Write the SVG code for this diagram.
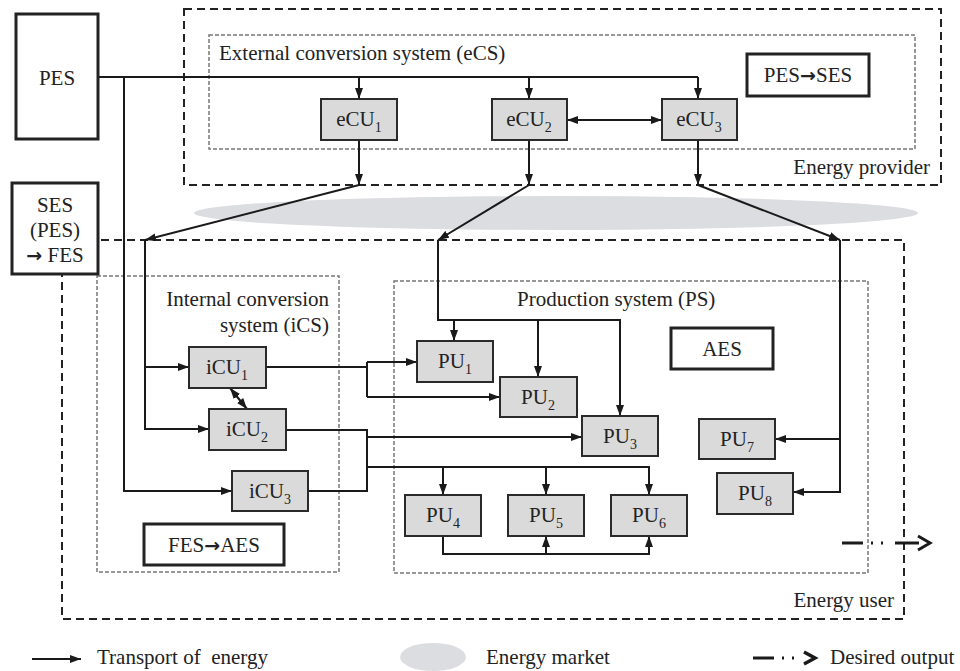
<svg xmlns="http://www.w3.org/2000/svg" width="960" height="671" viewBox="0 0 960 671">
<style>
text{font-family:"Liberation Serif","Times New Roman",serif;font-size:21px;fill:#222}
.mid{text-anchor:middle}
.end{text-anchor:end}
.sub{font-size:14px}
.arr{font-family:"DejaVu Sans",sans-serif;font-weight:bold;font-size:19px}
.unit{fill:#dadada;stroke:#2a2a2a;stroke-width:2}
.thick{fill:#fff;stroke:#222;stroke-width:3}
.outer{fill:none;stroke:#222;stroke-width:2;stroke-dasharray:8 5}
.inner{fill:none;stroke:#777;stroke-width:1.5;stroke-dasharray:4 2}
.c{fill:none;stroke:#1a1a1a;stroke-width:2}
.a{fill:none;stroke:#1a1a1a;stroke-width:2;marker-end:url(#ah)}
.b{fill:none;stroke:#1a1a1a;stroke-width:2;marker-end:url(#ah);marker-start:url(#ah)}
</style>
<defs>
<marker id="ah" viewBox="0 0 11 8" refX="11" refY="4" markerWidth="11" markerHeight="8" markerUnits="userSpaceOnUse" orient="auto-start-reverse"><path d="M0,0 L11,4 L0,8 z" fill="#1a1a1a"/></marker>
</defs>

<rect width="960" height="671" fill="#fff"/>

<g id="market">
<ellipse cx="556" cy="213" rx="362" ry="17" fill="#dcdde0"/>
</g>

<g id="energy-provider">
<rect class="outer" x="184" y="9" width="757" height="176"/>
<text class="end" x="930" y="174">Energy provider</text>
</g>
<g id="eCS">
<rect class="inner" x="209" y="35" width="706" height="114"/>
<text x="219" y="60">External conversion system (eCS)</text>
</g>

<g id="energy-user">
<rect class="outer" x="62" y="240" width="842" height="379"/>
<text class="end" x="894" y="607">Energy user</text>
</g>
<g id="iCS">
<rect class="inner" x="97" y="276" width="242" height="296"/>
<text class="end" x="329" y="306">Internal conversion</text>
<text class="end" x="329" y="332">system (iCS)</text>
</g>
<g id="PS">
<rect class="inner" x="394" y="281" width="474" height="292"/>
<text x="517" y="306">Production system (PS)</text>
</g>

<g id="connectors">
<path class="c" d="M98,77 H698"/>
<path class="a" d="M359,77 V99"/>
<path class="a" d="M529,77 V99"/>
<path class="a" d="M698,77 V99"/>
<path class="a" d="M124,77 V491 H232"/>
<path class="a" d="M359,140 V185"/>
<path class="a" d="M529,140 V185"/>
<path class="a" d="M698,140 V185"/>
<path class="b" d="M567,120 H662"/>
<path class="a" d="M359,185 L145,240"/>
<path class="a" d="M529,185 L438,240"/>
<path class="a" d="M698,185 L840,240"/>
<path class="a" d="M145,240 V429 H209"/>
<path class="a" d="M145,367 H189"/>
<path class="a" d="M438,240 V320 H620 V416"/>
<path class="a" d="M454,320 V341"/>
<path class="a" d="M538,320 V377"/>
<path class="a" d="M840,240 V492 H793"/>
<path class="a" d="M840,439 H775"/>
<path class="b" d="M230,388 L247,409"/>
<path class="c" d="M266,367 H367"/>
<path class="c" d="M367,362 V397"/>
<path class="a" d="M367,362 H417"/>
<path class="a" d="M367,397 H500"/>
<path class="c" d="M286,430 H367 V491 H308"/>
<path class="a" d="M367,437 H582"/>
<path class="a" d="M367,467 H649 V495"/>
<path class="a" d="M443,467 V495"/>
<path class="a" d="M546,467 V495"/>
<path class="a" d="M443,536 V554 H649 V536"/>
<path class="a" d="M546,554 V536"/>
<path fill="none" stroke="#1a1a1a" stroke-width="3" stroke-dasharray="21 8 2 8 2 12 25" d="M842,543 H919"/>
<path fill="none" stroke="#1a1a1a" stroke-width="3" d="M918,536 L930,543 L918,550"/>
</g>

<g id="PES">
<rect class="thick" x="16" y="14" width="82" height="125"/>
<text class="mid" x="57" y="85">PES</text>
</g>
<g id="SES">
<rect class="thick" x="12" y="183" width="86" height="91"/>
<text class="mid" x="55" y="212">SES</text>
<text class="mid" x="55" y="237">(PES)</text>
<text class="mid" x="55" y="262"><tspan class="arr">→</tspan> FES</text>
</g>
<g id="PES-SES">
<rect class="thick" x="747" y="54" width="122" height="42"/>
<text class="mid" x="808" y="82">PES<tspan class="arr">→</tspan>SES</text>
</g>
<g id="AES">
<rect class="thick" x="671" y="328" width="102" height="41"/>
<text class="mid" x="722" y="356">AES</text>
</g>
<g id="FES-AES">
<rect class="thick" x="144" y="524" width="140" height="41"/>
<text class="mid" x="214" y="552">FES<tspan class="arr">→</tspan>AES</text>
</g>

<g id="eCU1"><rect class="unit" x="321" y="99" width="76" height="41"/><text class="mid" x="359" y="126">eCU<tspan class="sub" dy="6">1</tspan></text></g>
<g id="eCU2"><rect class="unit" x="492" y="99" width="75" height="41"/><text class="mid" x="529" y="126">eCU<tspan class="sub" dy="6">2</tspan></text></g>
<g id="eCU3"><rect class="unit" x="662" y="99" width="75" height="41"/><text class="mid" x="699" y="126">eCU<tspan class="sub" dy="6">3</tspan></text></g>

<g id="iCU1"><rect class="unit" x="189" y="347" width="77" height="41"/><text class="mid" x="227" y="374">iCU<tspan class="sub" dy="6">1</tspan></text></g>
<g id="iCU2"><rect class="unit" x="209" y="409" width="77" height="41"/><text class="mid" x="247" y="436">iCU<tspan class="sub" dy="6">2</tspan></text></g>
<g id="iCU3"><rect class="unit" x="232" y="471" width="76" height="40"/><text class="mid" x="270" y="498">iCU<tspan class="sub" dy="6">3</tspan></text></g>

<g id="PU1"><rect class="unit" x="417" y="341" width="76" height="41"/><text class="mid" x="455" y="368">PU<tspan class="sub" dy="6">1</tspan></text></g>
<g id="PU2"><rect class="unit" x="500" y="377" width="77" height="40"/><text class="mid" x="538" y="404">PU<tspan class="sub" dy="6">2</tspan></text></g>
<g id="PU3"><rect class="unit" x="582" y="416" width="76" height="40"/><text class="mid" x="620" y="443">PU<tspan class="sub" dy="6">3</tspan></text></g>
<g id="PU4"><rect class="unit" x="405" y="495" width="76" height="41"/><text class="mid" x="443" y="522">PU<tspan class="sub" dy="6">4</tspan></text></g>
<g id="PU5"><rect class="unit" x="508" y="495" width="76" height="41"/><text class="mid" x="546" y="522">PU<tspan class="sub" dy="6">5</tspan></text></g>
<g id="PU6"><rect class="unit" x="611" y="495" width="76" height="41"/><text class="mid" x="649" y="522">PU<tspan class="sub" dy="6">6</tspan></text></g>
<g id="PU7"><rect class="unit" x="699" y="419" width="76" height="40"/><text class="mid" x="737" y="446">PU<tspan class="sub" dy="6">7</tspan></text></g>
<g id="PU8"><rect class="unit" x="717" y="473" width="76" height="41"/><text class="mid" x="755" y="500">PU<tspan class="sub" dy="6">8</tspan></text></g>

<g id="legend">
<path class="a" d="M32,659 H81"/>
<text x="97" y="664" xml:space="preserve">Transport of  energy</text>
<ellipse cx="433" cy="657" rx="33" ry="14" fill="#dcdde0"/>
<text x="486" y="664">Energy market</text>
<path fill="none" stroke="#1a1a1a" stroke-width="3" stroke-dasharray="21 8 2 8 2" d="M753,658 H795"/>
<path fill="none" stroke="#1a1a1a" stroke-width="3.5" d="M804,652 L815,658 L804,664"/>
<text x="830" y="664">Desired output</text>
</g>
</svg>
